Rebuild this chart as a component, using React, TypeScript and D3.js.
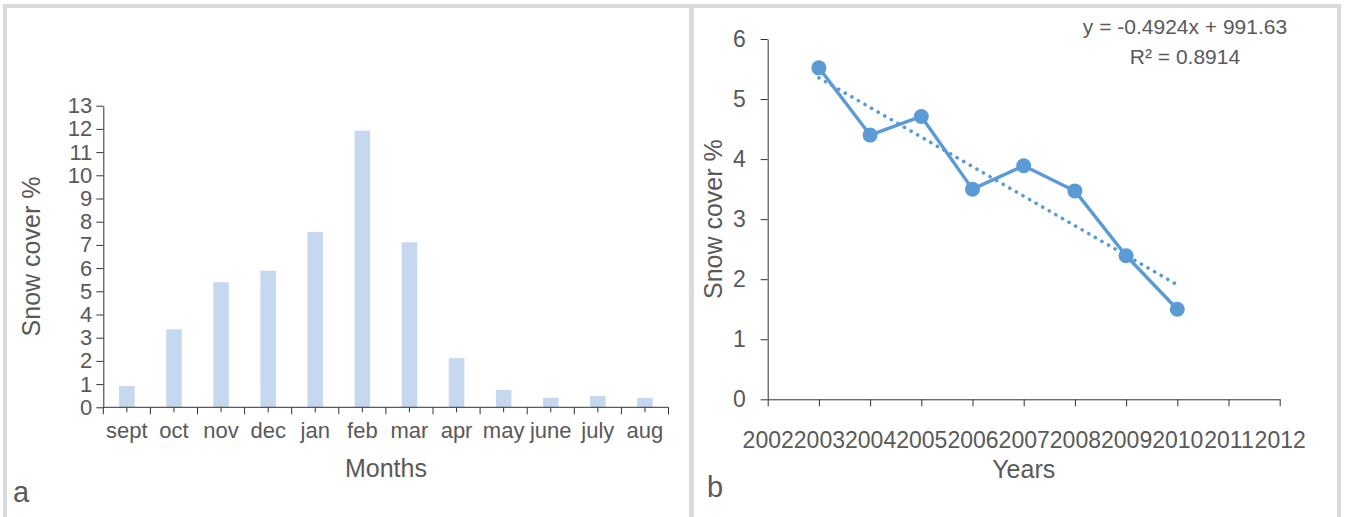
import * as d3 from "d3";
import { useEffect, useRef } from "react";

// panel a: monthly snow cover
const months = ["sept", "oct", "nov", "dec", "jan", "feb", "mar", "apr", "may", "june", "july", "aug"];
const monthlyCover = [0.92, 3.36, 5.39, 5.89, 7.56, 11.92, 7.11, 2.12, 0.75, 0.41, 0.49, 0.41];
const monthTicks = [0, 1, 2, 3, 4, 5, 6, 7, 8, 9, 10, 11, 12, 13];

// panel b: yearly snow cover + linear trend
const years = [2003, 2004, 2005, 2006, 2007, 2008, 2009, 2010];
const yearlyCover = [5.52, 4.4, 4.71, 3.5, 3.89, 3.47, 2.39, 1.5];
const yearTicks = [2002, 2003, 2004, 2005, 2006, 2007, 2008, 2009, 2010, 2011, 2012];
const coverTicks = [0, 1, 2, 3, 4, 5, 6];
const trendSlope = -0.4924;
const trendIntercept = 991.63;
const trendR2 = 0.8914;

const FONT = "'Liberation Sans', Arial, sans-serif";
const TEXT = "#595959";
const AXIS = "#333333";

const App = () => {
  const svgRef = useRef(null);

  useEffect(() => {
    const svg = d3.select(svgRef.current);
    svg.selectAll("*").remove();

    // frame
    const frame = svg.append("g").attr("fill", "#dadada");
    frame.append("rect").attr("x", 3).attr("y", 4).attr("width", 1338).attr("height", 4);
    frame.append("rect").attr("x", 3).attr("y", 4).attr("width", 4).attr("height", 520);
    frame.append("rect").attr("x", 689).attr("y", 4).attr("width", 5).attr("height", 520);
    frame.append("rect").attr("x", 1337).attr("y", 4).attr("width", 4).attr("height", 520);

    // ---------- panel a ----------
    const x = d3.scaleBand().domain(months).range([103.3, 668.5]).padding(0);
    const y = d3.scaleLinear().domain([0, 13]).range([407.3, 105.7]);
    const a = svg.append("g");
    const barW = x.bandwidth() * 0.33;

    a.selectAll(".bar")
      .data(monthlyCover)
      .enter()
      .append("rect")
      .attr("class", "bar")
      .attr("x", (d, i) => x(months[i]) + x.bandwidth() / 2 - barW / 2)
      .attr("y", (d) => y(d))
      .attr("width", barW)
      .attr("height", (d) => y(0) - y(d))
      .attr("fill", "#c6d8f0");

    const yAxisA = a
      .append("g")
      .attr("transform", `translate(${x.range()[0]},0)`)
      .call(d3.axisLeft(y).tickValues(monthTicks).tickSize(7).tickPadding(4).tickSizeOuter(0));
    yAxisA.select(".domain").attr("stroke", AXIS);
    yAxisA.selectAll("line").attr("stroke", AXIS);
    yAxisA.selectAll("text").attr("fill", TEXT).attr("font-size", 22).attr("font-family", FONT);

    const xa = a.append("g");
    xa.append("line")
      .attr("x1", x.range()[0])
      .attr("x2", x.range()[1])
      .attr("y1", y(0))
      .attr("y2", y(0))
      .attr("stroke", AXIS);
    const bounds = months.map((m) => x(m)).concat([x.range()[1]]);
    xa.selectAll(".bt")
      .data(bounds)
      .enter()
      .append("line")
      .attr("x1", (d) => d)
      .attr("x2", (d) => d)
      .attr("y1", y(0))
      .attr("y2", y(0) + 7)
      .attr("stroke", AXIS);
    xa.selectAll(".ct")
      .data(months)
      .enter()
      .append("line")
      .attr("x1", (d) => x(d) + x.bandwidth() / 2)
      .attr("x2", (d) => x(d) + x.bandwidth() / 2)
      .attr("y1", y(0))
      .attr("y2", y(0) + 5)
      .attr("stroke", AXIS);
    xa.selectAll(".ml")
      .data(months)
      .enter()
      .append("text")
      .attr("x", (d) => x(d) + x.bandwidth() / 2)
      .attr("y", 438)
      .attr("text-anchor", "middle")
      .attr("fill", TEXT)
      .attr("font-size", 22)
      .attr("font-family", FONT)
      .text((d) => d);

    a.append("text")
      .attr("x", (x.range()[0] + x.range()[1]) / 2)
      .attr("y", 477)
      .attr("text-anchor", "middle")
      .attr("fill", TEXT)
      .attr("font-size", 25)
      .attr("font-family", FONT)
      .text("Months");
    a.append("text")
      .attr("transform", `translate(40,${(y(0) + y(13)) / 2}) rotate(-90)`)
      .attr("text-anchor", "middle")
      .attr("fill", TEXT)
      .attr("font-size", 25)
      .attr("font-family", FONT)
      .text("Snow cover %");
    a.append("text")
      .attr("x", 13)
      .attr("y", 502)
      .attr("fill", TEXT)
      .attr("font-size", 29)
      .attr("font-family", FONT)
      .text("a");

    // ---------- panel b ----------
    const xb = d3.scaleLinear().domain([2002, 2012]).range([767.7, 1279.7]);
    const yb = d3.scaleLinear().domain([0, 6]).range([399.3, 39]);
    const b = svg.append("g");

    const yAxisB = b
      .append("g")
      .attr("transform", `translate(${xb(2002)},0)`)
      .call(
        d3.axisLeft(yb).tickValues(coverTicks).tickFormat(d3.format("d")).tickSize(7).tickPadding(15).tickSizeOuter(0)
      );
    yAxisB.select(".domain").attr("stroke", AXIS);
    yAxisB.selectAll("line").attr("stroke", AXIS);
    yAxisB.selectAll("text").attr("fill", TEXT).attr("font-size", 23).attr("font-family", FONT);

    const xAxisB = b
      .append("g")
      .attr("transform", `translate(0,${yb(0)})`)
      .call(d3.axisBottom(xb).tickValues(yearTicks).tickFormat(d3.format("d")).tickSize(7).tickPadding(0).tickSizeOuter(0));
    xAxisB.select(".domain").attr("stroke", AXIS);
    xAxisB.selectAll("line").attr("stroke", AXIS);
    xAxisB.selectAll("text")
      .attr("dy", null)
      .attr("y", 448 - yb(0))
      .attr("fill", TEXT)
      .attr("font-size", 23)
      .attr("font-family", FONT);

    // trend line
    const first = years[0];
    const last = years[years.length - 1];
    b.append("line")
      .attr("x1", xb(first))
      .attr("y1", yb(trendSlope * first + trendIntercept))
      .attr("x2", xb(last))
      .attr("y2", yb(trendSlope * last + trendIntercept))
      .attr("stroke", "#5b9bd5")
      .attr("stroke-width", 3.6)
      .attr("stroke-linecap", "round")
      .attr("stroke-dasharray", "0.1 7.5");

    const line = d3
      .line()
      .x((d) => xb(d[0]))
      .y((d) => yb(d[1]));
    const pts = years.map((yr, i) => [yr, yearlyCover[i]]);
    b.append("path")
      .attr("d", line(pts))
      .attr("fill", "none")
      .attr("stroke", "#5b9bd5")
      .attr("stroke-width", 3.4)
      .attr("stroke-linejoin", "round");
    b.selectAll(".pt")
      .data(pts)
      .enter()
      .append("circle")
      .attr("cx", (d) => xb(d[0]))
      .attr("cy", (d) => yb(d[1]))
      .attr("r", 7.5)
      .attr("fill", "#5b9bd5");

    b.append("text")
      .attr("x", 1185)
      .attr("y", 34)
      .attr("text-anchor", "middle")
      .attr("fill", TEXT)
      .attr("font-size", 21)
      .attr("font-family", FONT)
      .text(`y = ${trendSlope}x + ${trendIntercept}`);
    b.append("text")
      .attr("x", 1185)
      .attr("y", 64)
      .attr("text-anchor", "middle")
      .attr("fill", TEXT)
      .attr("font-size", 21)
      .attr("font-family", FONT)
      .text(`R² = ${trendR2}`);

    b.append("text")
      .attr("x", (xb(2002) + xb(2012)) / 2)
      .attr("y", 478)
      .attr("text-anchor", "middle")
      .attr("fill", TEXT)
      .attr("font-size", 25)
      .attr("font-family", FONT)
      .text("Years");
    b.append("text")
      .attr("transform", `translate(722,${(yb(0) + yb(6)) / 2}) rotate(-90)`)
      .attr("text-anchor", "middle")
      .attr("fill", TEXT)
      .attr("font-size", 25)
      .attr("font-family", FONT)
      .text("Snow cover %");
    b.append("text")
      .attr("x", 707)
      .attr("y", 497)
      .attr("fill", TEXT)
      .attr("font-size", 29)
      .attr("font-family", FONT)
      .text("b");
  }, []);

  return (
    <svg
      ref={svgRef}
      width={1345}
      height={517}
      style={{ position: "absolute", left: 0, top: 0, background: "#fff" }}
    ></svg>
  );
};

export default App;
